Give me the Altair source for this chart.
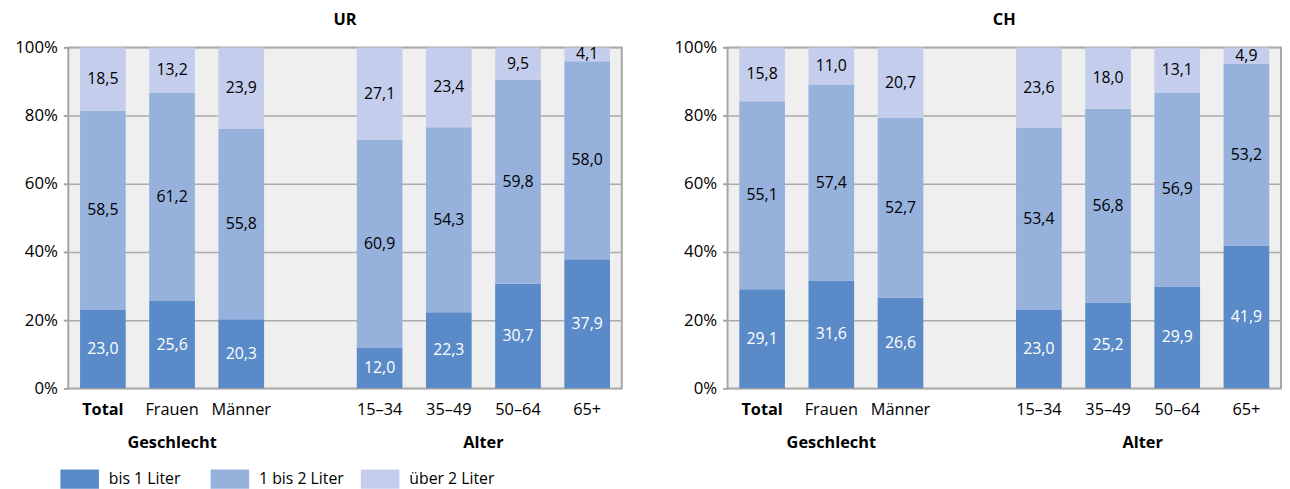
import altair as alt
import pandas as pd

categories = ["Total", "Frauen", "Männer", "15–34", "35–49", "50–64", "65+"]
domain = ["Total", "Frauen", "Männer", " ", "15–34", "35–49", "50–64", "65+"]
series = ["bis 1 Liter", "1 bis 2 Liter", "über 2 Liter"]
colors = ["#5a8bc8", "#96b1dc", "#c4ceec"]

ur_bis1 = [23.0, 25.6, 20.3, 12.0, 22.3, 30.7, 37.9]
ur_1bis2 = [58.5, 61.2, 55.8, 60.9, 54.3, 59.8, 58.0]
ur_ueber2 = [18.5, 13.2, 23.9, 27.1, 23.4, 9.5, 4.1]

ch_bis1 = [29.1, 31.6, 26.6, 23.0, 25.2, 29.9, 41.9]
ch_1bis2 = [55.1, 57.4, 52.7, 53.4, 56.8, 56.9, 53.2]
ch_ueber2 = [15.8, 11.0, 20.7, 23.6, 18.0, 13.1, 4.9]

groups = ["Geschlecht", "Alter"]
group_anchor = ["Frauen", "35–49"]

FONT = "Open Sans"
W = 560
H = 345


def panel(title, s1, s2, s3, show_legend):
    rows = []
    for i, c in enumerate(categories):
        for k, vals in enumerate([s1, s2, s3]):
            rows.append({"cat": c, "series": series[k], "ord": k, "value": vals[i]})
    df = pd.DataFrame(rows)

    xenc = alt.X(
        "cat:N",
        scale=alt.Scale(domain=domain, paddingInner=0.34, paddingOuter=0.17),
        sort=domain,
        title=None,
        axis=alt.Axis(
            labelAngle=0,
            ticks=False,
            domain=False,
            labelFontSize=16.5,
            labelPadding=13,
            labelColor="#000000",
            labelFontWeight={"condition": {"test": "datum.value == 'Total'", "value": "bold"}, "value": "normal"},
        ),
    )

    bars = alt.Chart(df).mark_bar().encode(
        x=xenc,
        y=alt.Y(
            "value:Q",
            stack="zero",
            scale=alt.Scale(domain=[0, 100], nice=False),
            title=None,
            axis=alt.Axis(
                values=[0, 20, 40, 60, 80, 100],
                labelExpr="datum.value + '%'",
                labelFontSize=17,
                labelColor="#000000",
                labelPadding=6,
                tickSize=5,
                tickColor="#a6a6a6",
                tickWidth=2,
                domain=False,
                grid=True,
                gridColor="#ababab",
                gridWidth=1.5,
                minExtent=60,
                maxExtent=60,
            ),
        ),
        color=alt.Color(
            "series:N",
            scale=alt.Scale(domain=series, range=colors),
            legend=alt.Legend(
                title=None,
                orient="none",
                direction="horizontal",
                legendX=-8,
                legendY=417,
                symbolType="M-1,-0.5H1V0.5H-1Z",
                symbolSize=1521,
                symbolStrokeWidth=0,
                labelFontSize=16,
                labelFont=FONT,
                labelColor="#000000",
                labelOffset=10,
                columns=3,
                gridAlign="all",
                columnPadding=16,
                labelLimit=200,
            ) if show_legend else None,
        ),
        order=alt.Order("ord:Q"),
    )

    texts = alt.Chart(df).transform_stack(
        stack="value", groupby=["cat"], as_=["y0", "y1"], sort=[alt.SortField("ord")]
    ).transform_calculate(
        mid="(datum.y0 + datum.y1) / 2",
        lbl="replace(format(datum.value, '.1f'), '.', ',')",
    ).mark_text(fontSize=16, font=FONT, baseline="middle").encode(
        x=alt.X("cat:N", scale=alt.Scale(domain=domain), sort=domain),
        y=alt.Y("mid:Q"),
        text="lbl:N",
        color=alt.condition(alt.datum.series == "bis 1 Liter", alt.value("white"), alt.value("black")),
    )

    gdf = pd.DataFrame({"g": groups, "cat": group_anchor})
    g1 = alt.Chart(gdf).transform_filter(alt.datum.g == "Geschlecht").mark_text(
        fontSize=16.5, fontWeight="bold", font=FONT, baseline="middle"
    ).encode(x=alt.X("cat:N", scale=alt.Scale(domain=domain), sort=domain), y=alt.value(H + 55), text="g:N")
    g2 = alt.Chart(gdf).transform_filter(alt.datum.g == "Alter").mark_text(
        fontSize=16.5, fontWeight="bold", font=FONT, baseline="middle", dx=35
    ).encode(x=alt.X("cat:N", scale=alt.Scale(domain=domain), sort=domain), y=alt.value(H + 55), text="g:N")

    return alt.layer(bars, texts, g1, g2).properties(
        width=W,
        height=H,
        title=alt.TitleParams(title, fontSize=16.5, fontWeight="bold", font=FONT, offset=10, anchor="middle", color="#000000"),
    )


left = panel("UR", ur_bis1, ur_1bis2, ur_ueber2, True)
right = panel("CH", ch_bis1, ch_1bis2, ch_ueber2, False)

chart = alt.hconcat(left, right, spacing=45).configure(
    font=FONT,
    padding={"left": 0, "top": 0, "right": 0, "bottom": 0},
).configure_view(
    fill="#efefef", stroke="#a6a6a6", strokeWidth=2
).configure_axis(
    labelFont=FONT
)

chart.save("out.html", embed_options={"renderer": "svg", "actions": False})
